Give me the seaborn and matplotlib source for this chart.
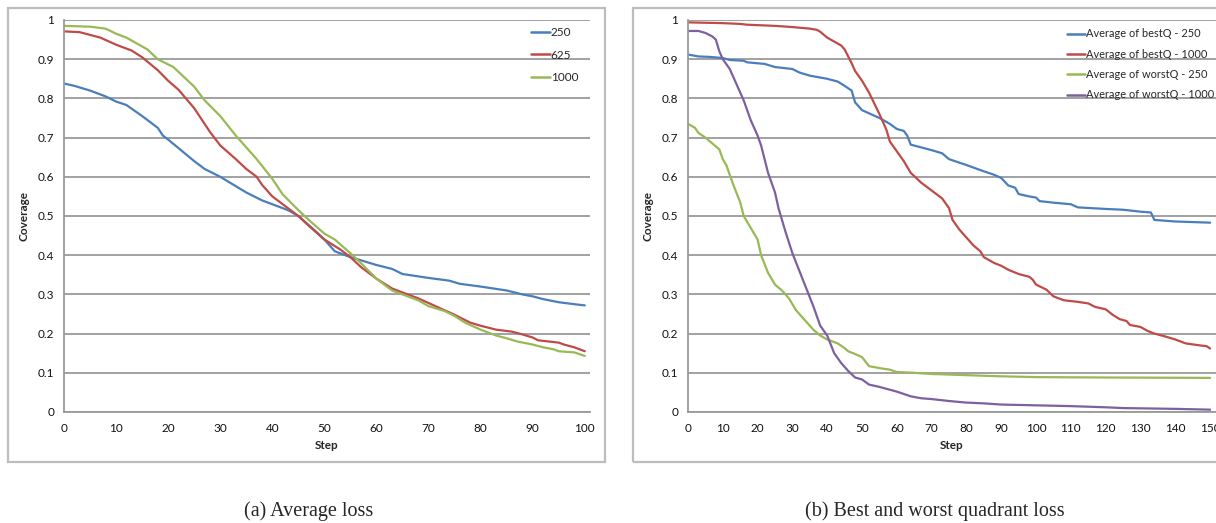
import numpy as np
import pandas as pd
import matplotlib
matplotlib.use("Agg")
import matplotlib.pyplot as plt
import seaborn as sns
from matplotlib.patches import Rectangle
from matplotlib.lines import Line2D

# ---------------- data: (a) Average loss ----------------
a250_x = [0, 2, 5, 8, 10, 12, 15, 18, 19, 20, 25, 27, 30, 35, 38, 40, 43, 45, 48, 50, 52, 55,
          60, 63, 65, 70, 74, 76, 80, 85, 88, 90, 92, 95, 98, 100]
a250_y = [0.838, 0.832, 0.820, 0.805, 0.792, 0.783, 0.755, 0.725, 0.705, 0.695, 0.640, 0.620,
          0.600, 0.560, 0.540, 0.530, 0.515, 0.500, 0.465, 0.440, 0.410, 0.395, 0.375, 0.365,
          0.352, 0.342, 0.335, 0.327, 0.320, 0.310, 0.300, 0.295, 0.288, 0.280, 0.275, 0.272]

a625_x = [0, 3, 5, 7, 10, 13, 15, 18, 20, 22, 25, 28, 30, 33, 35, 37, 38, 40, 42, 45, 47, 50,
          53, 55, 57, 60, 63, 65, 68, 70, 73, 75, 78, 80, 83, 86, 88, 90, 91, 93, 95, 96, 98, 100]
a625_y = [0.971, 0.969, 0.962, 0.955, 0.937, 0.922, 0.905, 0.872, 0.845, 0.822, 0.775, 0.715,
          0.680, 0.645, 0.620, 0.600, 0.580, 0.550, 0.530, 0.500, 0.475, 0.440, 0.415, 0.395,
          0.370, 0.340, 0.315, 0.305, 0.290, 0.278, 0.260, 0.248, 0.228, 0.220, 0.210, 0.205,
          0.198, 0.190, 0.183, 0.180, 0.177, 0.172, 0.165, 0.155]

a1000_x = [0, 5, 8, 10, 12, 14, 16, 18, 21, 23, 25, 27, 30, 33, 35, 37, 40, 42, 45, 47, 50, 52,
           55, 57, 60, 63, 65, 68, 70, 73, 75, 77, 80, 83, 85, 87, 90, 92, 94, 95, 98, 100]
a1000_y = [0.985, 0.983, 0.978, 0.965, 0.955, 0.940, 0.925, 0.900, 0.880, 0.855, 0.830, 0.795,
           0.755, 0.705, 0.675, 0.645, 0.595, 0.555, 0.515, 0.490, 0.455, 0.440, 0.405, 0.380,
           0.340, 0.310, 0.300, 0.285, 0.270, 0.258, 0.245, 0.228, 0.210, 0.195, 0.188, 0.180,
           0.172, 0.165, 0.160, 0.155, 0.152, 0.143]

# ---------------- data: (b) Best and worst quadrant loss ----------------
best250_x = [0, 3, 6, 10, 12, 16, 17, 22, 25, 30, 32, 35, 40, 43, 45, 47, 48, 50, 55, 58, 60,
             62, 63, 64, 67, 70, 73, 75, 80, 85, 88, 90, 92, 94, 95, 98, 100, 101, 105, 110,
             112, 120, 125, 130, 133, 134, 140, 150]
best250_y = [0.912, 0.907, 0.906, 0.903, 0.898, 0.896, 0.892, 0.888, 0.880, 0.875, 0.866, 0.858,
             0.850, 0.843, 0.832, 0.820, 0.790, 0.770, 0.750, 0.735, 0.722, 0.717, 0.705, 0.682,
             0.675, 0.668, 0.660, 0.645, 0.630, 0.614, 0.605, 0.597, 0.578, 0.572, 0.556, 0.550,
             0.547, 0.538, 0.534, 0.530, 0.522, 0.518, 0.516, 0.511, 0.509, 0.490, 0.486, 0.483]

best1000_x = [0, 10, 15, 17, 25, 30, 35, 37, 38, 40, 42, 44, 45, 47, 48, 50, 52, 55, 57, 58, 60,
              62, 64, 67, 70, 73, 75, 76, 78, 80, 82, 84, 85, 88, 90, 92, 95, 98, 99, 100, 103,
              105, 108, 112, 115, 117, 120, 122, 124, 126, 127, 130, 132, 134, 137, 140, 143,
              147, 149, 150]
best1000_y = [0.994, 0.992, 0.990, 0.988, 0.985, 0.982, 0.978, 0.975, 0.970, 0.955, 0.945, 0.935,
              0.925, 0.890, 0.870, 0.845, 0.815, 0.760, 0.720, 0.690, 0.665, 0.640, 0.610, 0.585,
              0.565, 0.545, 0.520, 0.490, 0.465, 0.445, 0.425, 0.410, 0.395, 0.380, 0.373, 0.363,
              0.352, 0.345, 0.338, 0.325, 0.312, 0.295, 0.285, 0.281, 0.277, 0.268, 0.262, 0.248,
              0.237, 0.232, 0.222, 0.217, 0.207, 0.200, 0.193, 0.185, 0.175, 0.170, 0.168, 0.162]

worst250_x = [0, 2, 3, 5, 7, 9, 10, 11, 13, 15, 16, 18, 20, 21, 23, 25, 27, 29, 31, 34, 36, 38,
              40, 43, 45, 46, 48, 50, 52, 55, 58, 60, 65, 70, 80, 90, 100, 120, 150]
worst250_y = [0.735, 0.725, 0.712, 0.700, 0.685, 0.670, 0.645, 0.630, 0.580, 0.535, 0.500, 0.470,
              0.440, 0.400, 0.355, 0.325, 0.310, 0.290, 0.260, 0.230, 0.210, 0.195, 0.185, 0.175,
              0.163, 0.155, 0.148, 0.140, 0.117, 0.112, 0.108, 0.102, 0.100, 0.097, 0.094, 0.091,
              0.089, 0.088, 0.087]

worst1000_x = [0, 3, 5, 7, 8, 9, 10, 12, 14, 16, 18, 20, 21, 23, 25, 26, 28, 30, 32, 34, 36, 38,
               40, 42, 44, 46, 48, 50, 52, 55, 60, 62, 64, 67, 70, 75, 80, 85, 90, 100, 110, 120,
               125, 140, 150]
worst1000_y = [0.972, 0.972, 0.967, 0.958, 0.950, 0.920, 0.900, 0.875, 0.835, 0.795, 0.745, 0.705,
               0.680, 0.610, 0.560, 0.520, 0.460, 0.405, 0.360, 0.315, 0.270, 0.220, 0.195, 0.150,
               0.125, 0.105, 0.088, 0.083, 0.070, 0.064, 0.052, 0.046, 0.040, 0.035, 0.033, 0.028,
               0.024, 0.022, 0.019, 0.017, 0.015, 0.012, 0.010, 0.008, 0.006]

left_labels = ["250", "625", "1000"]
right_labels = ["Average of bestQ - 250", "Average of bestQ - 1000",
                "Average of worstQ - 250", "Average of worstQ - 1000"]
y_ticks = [0, 0.1, 0.2, 0.3, 0.4, 0.5, 0.6, 0.7, 0.8, 0.9, 1]
y_tick_labels = ["0", "0.1", "0.2", "0.3", "0.4", "0.5", "0.6", "0.7", "0.8", "0.9", "1"]
left_x_ticks = list(range(0, 101, 10))
right_x_ticks = list(range(0, 151, 10))
captions = ["(a) Average loss", "(b) Best and worst quadrant loss"]

BLUE, RED, GREEN, PURPLE = "#4A7EBB", "#BE4B48", "#98B954", "#7D60A0"


def long_df(xs, ys, labels):
    frames = []
    for x, y, lab in zip(xs, ys, labels):
        frames.append(pd.DataFrame({"Step": x, "Coverage": y, "series": lab}))
    return pd.concat(frames, ignore_index=True)


df_a = long_df([a250_x, a625_x, a1000_x], [a250_y, a625_y, a1000_y], left_labels)
df_b = long_df([best250_x, best1000_x, worst250_x, worst1000_x],
               [best250_y, best1000_y, worst250_y, worst1000_y], right_labels)

sns.set_style("white")
plt.rcParams["font.family"] = ["Lato", "DejaVu Sans"]

W, H = 1216, 523
fig = plt.figure(figsize=(W / 100, H / 100), dpi=100)


def px_axes(x0, y0, x1, y1):
    return fig.add_axes([x0 / W, 1 - y1 / H, (x1 - x0) / W, (y1 - y0) / H])


ax_a = px_axes(64, 20, 590, 412)
ax_b = px_axes(688, 20, 1216, 412)

GRID = "#9a9a9a"


def style(ax, xmax, xticks):
    ax.set_ylim(0, 1)
    ax.set_xlim(0, xmax)
    ax.set_yticks(y_ticks)
    ax.set_yticklabels(y_tick_labels)
    ax.set_xticks(xticks)
    ax.set_xticklabels([str(t) for t in xticks])
    ax.yaxis.grid(True, color=GRID, lw=1.3)
    ax.xaxis.grid(False)
    ax.set_axisbelow(True)
    for s in ["top", "right"]:
        ax.spines[s].set_visible(False)
    for s in ["left", "bottom"]:
        ax.spines[s].set_color(GRID)
        ax.spines[s].set_linewidth(1.3)
    ax.tick_params(axis="both", which="major", direction="out", length=4, width=1.1,
                   color=GRID, labelsize=8.5, labelcolor="#111111", pad=3)
    ax.tick_params(axis="x", pad=4)
    ax.set_xlabel("Step", fontsize=8.5, fontweight="bold", labelpad=4)
    ax.set_ylabel("Coverage", fontsize=8.5, fontweight="bold", labelpad=6)


sns.lineplot(data=df_a, x="Step", y="Coverage", hue="series", hue_order=left_labels,
             palette=[BLUE, RED, GREEN], estimator=None, sort=False, lw=1.6, ax=ax_a,
             legend=False)
sns.lineplot(data=df_b, x="Step", y="Coverage", hue="series", hue_order=right_labels,
             palette=[BLUE, RED, GREEN, PURPLE], estimator=None, sort=False, lw=1.6, ax=ax_b,
             legend=False)

style(ax_a, 101, left_x_ticks)
style(ax_b, 151.7, right_x_ticks)

h_a = [Line2D([], [], color=c, lw=1.8) for c in [BLUE, RED, GREEN]]
ax_a.legend(h_a, left_labels, loc="upper left",
            bbox_to_anchor=((526 - 64) / 526, 1.0 - (22 - 20) / 392),
            frameon=False, fontsize=8.5, handlelength=1.6, handletextpad=0.1,
            labelspacing=1.0, borderaxespad=0)
h_b = [Line2D([], [], color=c, lw=1.8) for c in [BLUE, RED, GREEN, PURPLE]]
ax_b.legend(h_b, right_labels, loc="upper left",
            bbox_to_anchor=((1063 - 688) / 528, 1.0 - (24 - 20) / 392),
            frameon=False, fontsize=7.9, handlelength=1.6, handletextpad=0.1,
            labelspacing=0.85, borderaxespad=0)

# panel borders
BORDER = "#bdbdbd"
for (x0, y0, x1, y1) in [(8, 8, 605, 462), (633, 8, 1225, 462)]:
    fig.patches.append(Rectangle((x0 / W, 1 - y1 / H), (x1 - x0) / W, (y1 - y0) / H,
                                 transform=fig.transFigure, fill=False, ec=BORDER, lw=1.6))

fig.text(309 / W, 1 - 511 / H, captions[0], ha="center", va="center",
         fontsize=14.5, family="Liberation Serif")
fig.text(935 / W, 1 - 511 / H, captions[1], ha="center", va="center",
         fontsize=14.5, family="Liberation Serif")

fig.savefig("out.png", dpi=100)
